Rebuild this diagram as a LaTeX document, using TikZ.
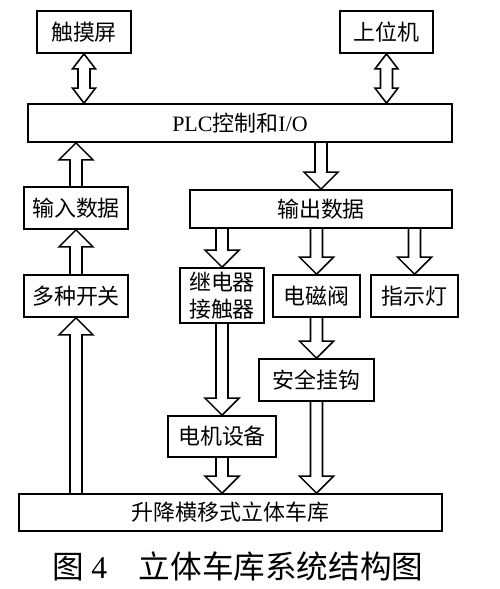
\documentclass[tikz,border=0pt]{standalone}
\usepackage{fontspec}
\setmainfont{Liberation Serif}
\newfontfamily\cjk{Noto Sans CJK SC}
\usepackage{tikz}
\usetikzlibrary{positioning,calc}

% hollow wide arrow: tail at #1, tip at (#1 |- #2)
\newcommand{\fatarr}[2]{%
\draw[fat] let \p1=(#1), \p2=(#1 |- #2), \n1={sign(\y2-\y1)} in
 ({\x1-1.2mm},\y1) -- ({\x1-1.2mm},{\y2-\n1*3.4mm}) -- ({\x1-3.4mm},{\y2-\n1*3.4mm}) -- (\x2,\y2)
 -- ({\x1+3.4mm},{\y2-\n1*3.4mm}) -- ({\x1+1.2mm},{\y2-\n1*3.4mm}) -- ({\x1+1.2mm},\y1);}
% hollow double arrow between #1 and (#1 |- #2)
\newcommand{\dblarr}[2]{%
\draw[fat] let \p1=(#1), \p2=(#1 |- #2), \n1={sign(\y2-\y1)} in
 (\x1,\y1) -- ({\x1-2.3mm},{\y1+\n1*3mm}) -- ({\x1-1.2mm},{\y1+\n1*3mm}) -- ({\x1-1.2mm},{\y2-\n1*3mm})
 -- ({\x1-2.3mm},{\y2-\n1*3mm}) -- (\x2,\y2) -- ({\x1+2.3mm},{\y2-\n1*3mm}) -- ({\x1+1.2mm},{\y2-\n1*3mm})
 -- ({\x1+1.2mm},{\y1+\n1*3mm}) -- ({\x1+2.3mm},{\y1+\n1*3mm}) -- cycle;}

\begin{document}
\begin{tikzpicture}[x=0.02cm, y=-0.02cm,
block/.style={rectangle,draw,line width=1pt,inner sep=0pt,minimum height=8.4mm,align=center,
  font=\cjk\fontsize{12.5}{15.5}\selectfont},
wide/.style={block,minimum height=7.6mm},
fat/.style={line width=0.9pt,line join=miter}
]
\useasboundingbox (0,0) rectangle (500,589);

%create nodes
\node[block, minimum width=18.8mm] (touch) at (84,32) {触摸屏};
\node[block, minimum width=18.6mm] (host) at (386.5,32) {上位机};
\node[wide, minimum width=84.8mm] (plc) at (240,123) {{\rmfamily PLC}控制和{\rmfamily I/O}};

\node[block, minimum width=20.8mm] (input) at (76,208) {输入数据};
\node[wide, minimum width=52.4mm] (output) at (321,209) {输出数据};

\node[block, minimum width=20.8mm] (switch) at (76,296) {多种开关};
\node[block, minimum width=16.8mm, minimum height=11mm] (relay) at (222,295.5) {继电器\\接触器};
\node[block, minimum width=17.4mm] (valve) at (316.5,296) {电磁阀};
\node[block, minimum width=17.4mm] (lamp) at (414.5,296) {指示灯};

\node[block, minimum width=23mm] (hook) at (316.5,380) {安全挂钩};
\node[block, minimum width=21.6mm, minimum height=8.2mm] (motor) at (222,436.5) {电机设备};

\node[wide, minimum width=84.6mm, minimum height=7.4mm] (garage) at (230.5,512.5) {升降横移式立体车库};

\node[font=\cjk\fontsize{18}{20}\selectfont] (caption) at (238,566) {图~{\rmfamily 4}\hspace{1em}立体车库系统结构图};

%draw paths
\dblarr{touch.south}{plc.north}
\dblarr{host.south}{plc.north}

\fatarr{input.north}{plc.south}
\fatarr{output.north |- plc.south}{output.north}

\fatarr{switch.north}{input.south}
\fatarr{relay.north |- output.south}{relay.north}
\fatarr{valve.north |- output.south}{valve.north}
\fatarr{lamp.north |- output.south}{lamp.north}

\fatarr{valve.south}{hook.north}
\fatarr{relay.south}{motor.north}

\fatarr{motor.south}{garage.north}
\fatarr{hook.south}{garage.north}
\fatarr{switch.south |- garage.north}{switch.south}

\end{tikzpicture}
\end{document}
